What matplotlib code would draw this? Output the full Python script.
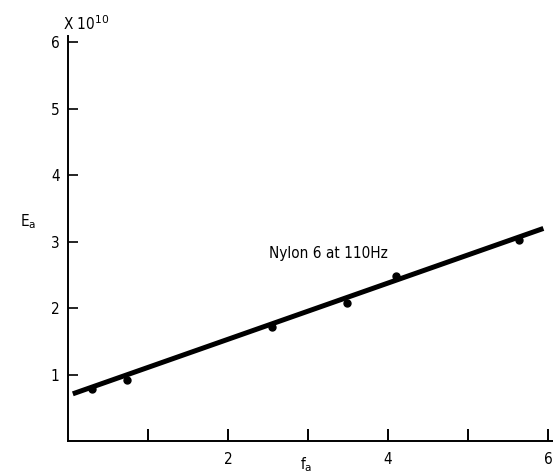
import matplotlib
matplotlib.use("Agg")
import matplotlib.pyplot as plt

# measured points (f_a, E_a / 1e10)
f_pts = [0.30, 0.74, 2.55, 3.49, 4.10, 5.63]
e_pts = [0.79, 0.92, 1.71, 2.08, 2.48, 3.02]
# fitted line ends
f_line = [0.06, 5.94]
e_line = [0.71, 3.20]

x_ticks = [1, 2, 3, 4, 5, 6]
x_labels = ["", "2", "", "4", "", "6"]
y_ticks = [1, 2, 3, 4, 5, 6]

plt.rcParams['font.family'] = ['DejaVu Sans']
fs = dict(fontstretch='condensed', fontsize=11)

fig = plt.figure(figsize=(5.53, 4.75), dpi=100)
ax = fig.add_axes([0.123, 0.0716, 0.877, 0.853])

ax.plot(f_line, e_line, color='black', lw=3.6, solid_capstyle='butt')
ax.plot(f_pts, e_pts, 'o', color='black', ms=5)

ax.set_xlim(0, 6.06)
ax.set_ylim(0, 6.1)
ax.spines['top'].set_visible(False)
ax.spines['right'].set_visible(False)
for s in ['left', 'bottom']:
    ax.spines[s].set_linewidth(1.4)

ax.set_xticks(x_ticks)
ax.set_xticklabels(x_labels, **fs)
ax.set_yticks(y_ticks)
ax.set_yticklabels([str(v) for v in y_ticks], **fs)
ax.tick_params(axis='x', direction='in', length=9, width=1.4, pad=8)
ax.tick_params(axis='y', direction='in', length=7, width=1.2, pad=6)

ax.text(3.26, 2.82, "Nylon 6 at 110Hz", ha='center', va='center', **fs)
fig.text(63 / 553, 1 - 24 / 475, r"X 10$^{10}$", ha='left', va='center', **fs)
fig.text(20 / 553, 1 - 222 / 475, r"E$_\mathrm{a}$", ha='left', va='center', **fs)
fig.text(300 / 553, 1 - 465 / 475, r"f$_\mathrm{a}$", ha='left', va='center', **fs)

fig.savefig("out.png", dpi=100)
